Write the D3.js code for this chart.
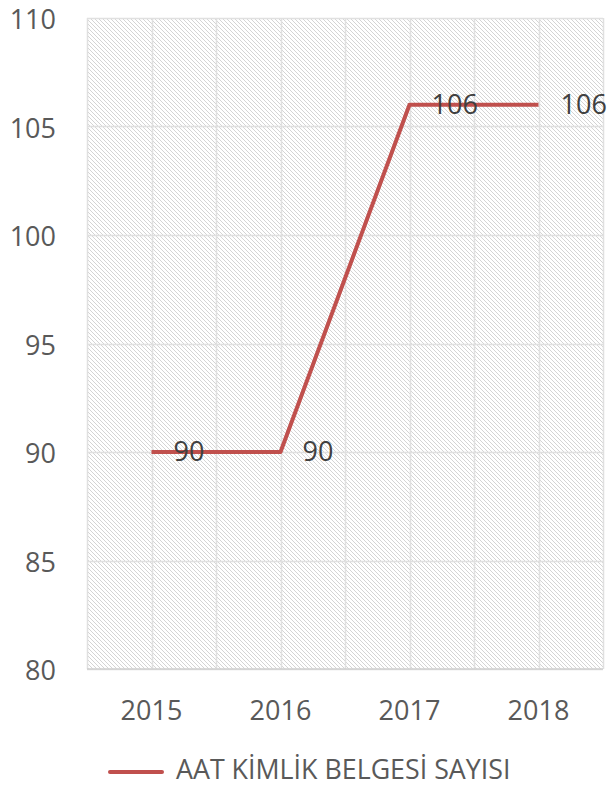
<!DOCTYPE html>
<html>
<head>
<meta charset="utf-8">
<script src="https://cdn.jsdelivr.net/npm/d3@7"></script>
<style>
  body { margin: 0; background: #fff; }
  text { font-family: "Open Sans", "Noto Sans", sans-serif; fill: #595959; }
</style>
</head>
<body>
<script>
let width = 611
let height = 788
let margin = {top: 18, right: 8, bottom: 119, left: 87}

let years = ["2015", "2016", "2017", "2018"]
let values = [90, 90, 106, 106]
let yTicks = [80, 85, 90, 95, 100, 105, 110]
let seriesName = "AAT KİMLİK BELGESİ SAYISI"

let lineColor = "#C0504D"
let fontSize = 27

let svg = d3.select("body").append("svg")
    .attr("width", width)
    .attr("height", height)

let defs = svg.append("defs")
let pat = defs.append("pattern")
    .attr("id", "hatch")
    .attr("patternUnits", "userSpaceOnUse")
    .attr("width", 4)
    .attr("height", 4)
pat.append("path")
    .attr("d", "M-1,-1 L5,5 M-1,3 L1,5 M3,-1 L5,1")
    .attr("stroke", "#d4d4d4")
    .attr("stroke-width", 1)

let innerW = width - margin.left - margin.right
let innerH = height - margin.top - margin.bottom

let x = d3.scaleBand().domain(years).range([margin.left, margin.left + innerW])
let y = d3.scaleLinear().domain([80, 110]).range([margin.top + innerH, margin.top])
let cx = (d) => x(d) + x.bandwidth() / 2

// plot area with hatching
svg.append("rect")
    .attr("x", margin.left)
    .attr("y", margin.top)
    .attr("width", innerW)
    .attr("height", innerH)
    .attr("fill", "url(#hatch)")

// horizontal grid
svg.append("g")
    .selectAll("line")
    .data(yTicks)
    .join("line")
    .attr("x1", margin.left)
    .attr("x2", margin.left + innerW)
    .attr("y1", (d) => Math.round(y(d)) + 0.5)
    .attr("y2", (d) => Math.round(y(d)) + 0.5)
    .attr("stroke", "#e0e0e0")
    .attr("stroke-width", 1.5)

// vertical grid at band edges and centres
let vx = []
years.forEach((d) => { vx.push(x(d)); vx.push(cx(d)) })
vx.push(x(years[years.length - 1]) + x.bandwidth())
svg.append("g")
    .selectAll("line")
    .data(vx)
    .join("line")
    .attr("x1", (d) => Math.round(d) + 0.5)
    .attr("x2", (d) => Math.round(d) + 0.5)
    .attr("y1", margin.top)
    .attr("y2", margin.top + innerH)
    .attr("stroke", "#e0e0e0")
    .attr("stroke-width", 1.5)

// bottom axis line
svg.append("line")
    .attr("x1", margin.left)
    .attr("x2", margin.left + innerW)
    .attr("y1", y(80))
    .attr("y2", y(80))
    .attr("stroke", "#d0d0d0")
    .attr("stroke-width", 1.5)

// y tick labels
svg.append("g")
    .selectAll("text")
    .data(yTicks)
    .join("text")
    .attr("x", 56)
    .attr("y", (d) => y(d))
    .attr("dy", "0.42em")
    .attr("text-anchor", "end")
    .attr("font-size", fontSize)
    .text((d) => d)

// x tick labels
svg.append("g")
    .selectAll("text")
    .data(years)
    .join("text")
    .attr("x", (d) => cx(d))
    .attr("y", 720)
    .attr("text-anchor", "middle")
    .attr("font-size", fontSize)
    .text((d) => d)

// series line
let data = years.map((d, i) => ({year: d, value: values[i]}))
svg.append("path")
    .datum(data)
    .attr("fill", "none")
    .attr("stroke", lineColor)
    .attr("stroke-width", 4)
    .attr("stroke-linejoin", "round")
    .attr("d", d3.line().x((d) => cx(d.year)).y((d) => y(d.value)))

// data labels
svg.append("g")
    .selectAll("text")
    .data(data)
    .join("text")
    .attr("x", (d) => cx(d.year) + 22)
    .attr("y", (d) => y(d.value))
    .attr("dy", "0.35em")
    .attr("font-size", fontSize)
    .style("fill", "#404040")
    .text((d) => d.value)

// legend
svg.append("line")
    .attr("x1", 110)
    .attr("x2", 162)
    .attr("y1", 772)
    .attr("y2", 772)
    .attr("stroke", lineColor)
    .attr("stroke-width", 4)
    .attr("stroke-linecap", "round")
svg.append("text")
    .attr("x", 176)
    .attr("y", 779)
    .attr("font-size", 26.8)
    .text(seriesName)
</script>
</body>
</html>
